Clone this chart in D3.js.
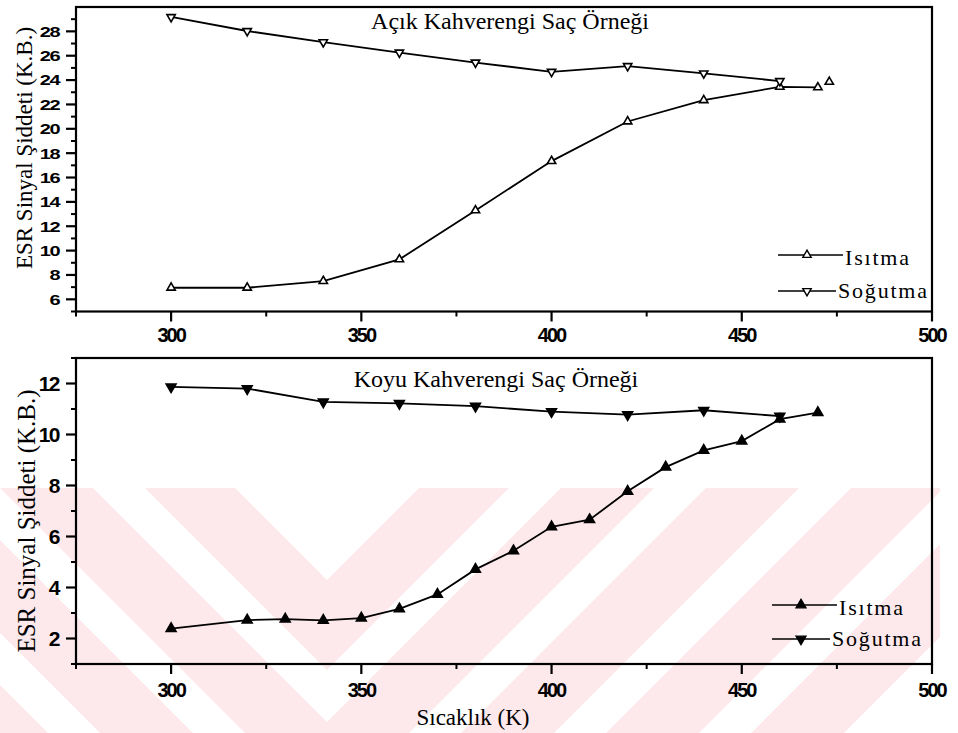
<!DOCTYPE html>
<html>
<head>
<meta charset="utf-8">
<script src="https://cdn.jsdelivr.net/npm/d3@7/dist/d3.min.js"></script>
<style>
  html, body { margin: 0; padding: 0; background: #ffffff; }
  svg { display: block; }
  .tick-label { font-family: "Liberation Sans", Arial, sans-serif; font-weight: bold; fill: #000; }
  .serif { font-family: "Liberation Serif", "Times New Roman", serif; fill: #000; }
</style>
</head>
<body>
<svg id="chart" width="958" height="733"></svg>
<script>
// Temperature axis (K)
const xMajorTicks = [300, 350, 400, 450, 500];
const xMinorTicks = [275, 325, 375, 425, 475];

// Light brown hair sample: heating and cooling
const lightHeatT = [300, 320, 340, 360, 380, 400, 420, 440, 460, 470];
const lightHeatI = [6.95, 6.95, 7.5, 9.28, 13.3, 17.35, 20.6, 22.35, 23.45, 23.4];
const lightHeatExtraT = [473];
const lightHeatExtraI = [23.85];
const lightCoolT = [300, 320, 340, 360, 380, 400, 420, 440, 460];
const lightCoolI = [29.18, 28.03, 27.11, 26.26, 25.44, 24.68, 25.15, 24.55, 23.92];
const lightYMajor = [6, 8, 10, 12, 14, 16, 18, 20, 22, 24, 26, 28];
const lightYMinor = [5, 7, 9, 11, 13, 15, 17, 19, 21, 23, 25, 27, 29];

// Dark brown hair sample: heating and cooling
const darkHeatT = [300, 320, 330, 340, 350, 360, 370, 380, 390, 400, 410, 420, 430, 440, 450, 460, 470];
const darkHeatI = [2.39, 2.72, 2.76, 2.71, 2.8, 3.16, 3.73, 4.71, 5.44, 6.38, 6.66, 7.77, 8.72, 9.38, 9.74, 10.6, 10.86];
const darkCoolT = [300, 320, 340, 360, 380, 400, 420, 440, 460];
const darkCoolI = [11.87, 11.8, 11.28, 11.22, 11.11, 10.9, 10.78, 10.95, 10.72];
const darkYMajor = [2, 4, 6, 8, 10, 12];
const darkYMinor = [1, 3, 5, 7, 9, 11, 13];

const titles = ["Açık Kahverengi Saç Örneği", "Koyu Kahverengi Saç Örneği"];
const yTitle = "ESR Sinyal Şiddeti (K.B.)";
const xTitle = "Sıcaklık (K)";
const legendNames = ["Isıtma", "Soğutma"];

const svg = d3.select("#chart");

// Faint chevron watermark behind the lower panel
(function drawWatermark() {
  const g = svg.append("g");
  const clipId = "wm-clip";
  svg.append("defs").append("clipPath").attr("id", clipId)
    .append("rect").attr("x", 0).attr("y", 488).attr("width", 940).attr("height", 245);
  g.attr("clip-path", `url(#${clipId})`);
  const cx = 327;
  // nested upward-opening V bands: [inner, outer] offsets of y + |x - cx|
  const bands = [[580, 670], [722, 815], [867, 960], [1012, 1105], [1157, 1250]];
  bands.forEach(([a, b]) => {
    const pts = [
      [cx, a], [cx + (a - 300), 300], [cx + (b - 300), 300], [cx, b],
      [cx - (b - 300), 300], [cx - (a - 300), 300]
    ];
    g.append("polygon")
      .attr("points", pts.map(p => p.join(",")).join(" "))
      .attr("fill", "#fde8ec");
  });
})();

const xLeft = 76, xRight = 932;

function drawPanel(opts) {
  const { top, bottom, yDomain, yMajor, yMinor, labelScaleY, yLabelSize,
          xLabelBaseline, heat, cool, extra, filled, title, titleX, titleBaseline,
          legendY, legendX, yTitleX, yTitleY, yTitleSize } = opts;
  const x = d3.scaleLinear().domain([275, 500]).range([xLeft, xRight]);
  const y = d3.scaleLinear().domain(yDomain).range([bottom, top]);
  const g = svg.append("g");

  // x ticks (outward)
  const xa = g.append("g").attr("transform", `translate(0,${bottom})`);
  xa.selectAll("line.maj").data(xMajorTicks).join("line")
    .attr("x1", d => x(d)).attr("x2", d => x(d)).attr("y1", 0).attr("y2", 10)
    .attr("stroke", "#000").attr("stroke-width", 2.2);
  xa.selectAll("line.min").data(xMinorTicks).join("line")
    .attr("x1", d => x(d)).attr("x2", d => x(d)).attr("y1", 0).attr("y2", 5)
    .attr("stroke", "#000").attr("stroke-width", 2);
  g.selectAll("text.xl").data(xMajorTicks).join("text")
    .attr("class", "tick-label")
    .attr("x", d => x(d)).attr("y", xLabelBaseline)
    .attr("text-anchor", "middle")
    .style("font-size", "20px").style("letter-spacing", "-2px")
    .text(d => d);

  // y ticks (outward)
  const ya = g.append("g").attr("transform", `translate(${xLeft},0)`);
  ya.selectAll("line.maj").data(yMajor).join("line")
    .attr("x1", -10).attr("x2", 0).attr("y1", d => y(d)).attr("y2", d => y(d))
    .attr("stroke", "#000").attr("stroke-width", 2.2);
  ya.selectAll("line.min").data(yMinor).join("line")
    .attr("x1", -5).attr("x2", 0).attr("y1", d => y(d)).attr("y2", d => y(d))
    .attr("stroke", "#000").attr("stroke-width", 2);
  g.selectAll("text.yl").data(yMajor).join("text")
    .attr("class", "tick-label")
    .attr("transform", d => `translate(${xLeft - 17},${y(d)}) scale(1,${labelScaleY})`)
    .attr("text-anchor", "end").attr("dy", "0.36em")
    .style("font-size", yLabelSize + "px").style("letter-spacing", "-1.5px")
    .text(d => d);

  // frame
  g.append("rect").attr("x", xLeft).attr("y", top)
    .attr("width", xRight - xLeft).attr("height", bottom - top)
    .attr("fill", "none").attr("stroke", "#000").attr("stroke-width", 2.2);

  // y axis title
  g.append("text").attr("class", "serif")
    .attr("transform", `translate(${yTitleX},${yTitleY}) rotate(-90)`)
    .attr("text-anchor", "middle")
    .style("font-size", yTitleSize + "px")
    .text(yTitle);

  // panel title
  g.append("text").attr("class", "serif")
    .attr("x", titleX).attr("y", titleBaseline).attr("text-anchor", "middle")
    .style("font-size", "24px")
    .text(title);

  const line = d3.line().x(d => x(d[0])).y(d => y(d[1]));
  const upSym = d3.symbol().type(d3.symbolTriangle).size(filled ? 42 : 30);

  function drawMarkers(pts, down) {
    g.selectAll(null).data(pts).join("path")
      .attr("d", upSym())
      .attr("transform", d => `translate(${x(d[0])},${y(d[1])})${down ? " rotate(180)" : ""}`)
      .attr("fill", filled ? "#000" : "#fff")
      .attr("stroke", "#000").attr("stroke-width", 1.6);
  }
  function series(T, I, down) {
    const pts = T.map((t, i) => [t, I[i]]);
    g.append("path").attr("d", line(pts))
      .attr("fill", "none").attr("stroke", "#000").attr("stroke-width", 1.8);
    drawMarkers(pts, down);
  }
  series(heat[0], heat[1], false);
  series(cool[0], cool[1], true);
  if (extra) drawMarkers(extra[0].map((t, i) => [t, extra[1][i]]), false);

  // legend: short line, marker, label
  const lineEnd = [65, 58];
  const textDy = [10, 7];
  legendNames.forEach((name, i) => {
    const ly = legendY[i];
    const lg = g.append("g");
    lg.append("line").attr("x1", legendX).attr("x2", legendX + lineEnd[i])
      .attr("y1", ly).attr("y2", ly).attr("stroke", "#000").attr("stroke-width", 1.6);
    lg.append("path").attr("d", upSym())
      .attr("transform", `translate(${legendX + 29},${ly})${i === 1 ? " rotate(180)" : ""}`)
      .attr("fill", filled ? "#000" : "#fff").attr("stroke", "#000").attr("stroke-width", 1.4);
    lg.append("text").attr("class", "serif")
      .attr("x", legendX + lineEnd[i] + 2).attr("y", ly + textDy[i])
      .style("font-size", "22px").style("letter-spacing", "1.8px")
      .text(name);
  });
}

drawPanel({
  top: 7, bottom: 311.5, yDomain: [5, 30], yMajor: lightYMajor, yMinor: lightYMinor,
  labelScaleY: 0.75, yLabelSize: 20, xLabelBaseline: 342,
  heat: [lightHeatT, lightHeatI], cool: [lightCoolT, lightCoolI],
  extra: [lightHeatExtraT, lightHeatExtraI], filled: false,
  title: titles[0], titleX: 510, titleBaseline: 29, legendY: [255, 291], legendX: 778,
  yTitleX: 32, yTitleY: 148, yTitleSize: 23
});

drawPanel({
  top: 358, bottom: 664, yDomain: [1, 13], yMajor: darkYMajor, yMinor: darkYMinor,
  labelScaleY: 1, yLabelSize: 21, xLabelBaseline: 697,
  heat: [darkHeatT, darkHeatI], cool: [darkCoolT, darkCoolI],
  extra: null, filled: true,
  title: titles[1], titleX: 496, titleBaseline: 387, legendY: [605, 639], legendX: 772,
  yTitleX: 35, yTitleY: 521, yTitleSize: 25
});

svg.append("text").attr("class", "serif")
  .attr("x", 473).attr("y", 725).attr("text-anchor", "middle")
  .style("font-size", "23px")
  .text(xTitle);
</script>
</body>
</html>
